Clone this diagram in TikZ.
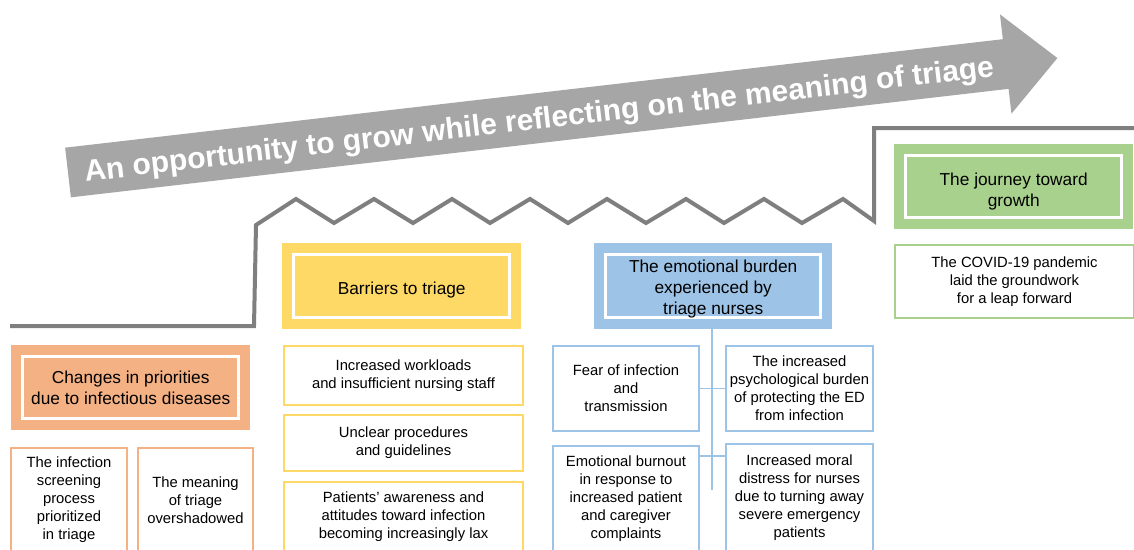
\documentclass[tikz,border=0pt]{standalone}
\usepackage{fontspec}
\setmainfont{Liberation Sans}
\usetikzlibrary{calc}

\definecolor{arrowgray}{HTML}{A6A6A6}
\definecolor{stairgray}{HTML}{7F7F7F}
\definecolor{peach}{HTML}{F4B183}
\definecolor{sun}{HTML}{FFD966}
\definecolor{sky}{HTML}{9DC3E6}
\definecolor{leaf}{HTML}{A9D18E}

\newcommand\hdrfont{\fontsize{17.3}{21}\selectfont}
\newcommand\bodyfont{\fontsize{14.8}{18}\selectfont}

\tikzset{
  header/.style={fill=#1, draw=none, inner sep=0pt, anchor=north west},
  htext/.style={inner sep=0pt, align=center, font=\hdrfont, text=black},
  item/.style={draw=#1, line width=2pt, fill=white, inner sep=0pt,
    align=center, font=\bodyfont, text=black, anchor=north west},
  frame/.style={draw=white, line width=3pt},
  stair/.style={draw=stairgray, line width=4pt, line join=miter},
  link/.style={draw=sky, line width=1.8pt},
}

% white inner frame of a header box
\newcommand\innerframe[1]{%
  \draw[frame] ([shift={(11.5pt,-11.5pt)}]#1.north west)
    rectangle ([shift={(-11.5pt,11.5pt)}]#1.south east);}

\begin{document}
\begin{tikzpicture}[x=1pt,y=-1pt]
\useasboundingbox (0,0) rectangle (1134,549);
\fill[white] (0,0) rectangle (1134,549);
\clip (0,0) rectangle (1134,549);

% big rising arrow
\begin{scope}[shift={(68,172.5)}, rotate=6.6]
  \fill[arrowgray] (0,-25) -- (944,-25) -- (944,-50) -- (996,0)
    -- (944,50) -- (944,25) -- (0,25) -- cycle;
  \node[transform shape, anchor=base, text=white,
    font=\bfseries\fontsize{30}{30}\selectfont] (motto) at (474,11)
    {An opportunity to grow while reflecting on the meaning of triage};
\end{scope}

% stepped path with the zigzag stretch
\draw[stair] (10,326) -- (254,326) -- (256,225)
  -- (296,199) -- (334,223) -- (374,199) -- (413,223)
  -- (452,199) -- (490,223) -- (530,199) -- (568,223)
  -- (607,199) -- (646,223) -- (686,199) -- (724,223)
  -- (764,199) -- (802,223) -- (843,199) -- (874,221)
  -- (874,128) -- (1140,128);

% theme headers
\node[header=peach, minimum width=239pt, minimum height=85pt] (h1) at (11,345) {};
\innerframe{h1}
\node[htext] (h1t) at (h1.center)
  {Changes in priorities\\due to infectious diseases};

\node[header=sun, minimum width=239pt, minimum height=86pt] (h2) at (282,243) {};
\innerframe{h2}
\node[htext] (h2t) at ([yshift=-3.5pt]h2.center) {Barriers to triage};

\node[header=sky, minimum width=238pt, minimum height=86pt] (h3) at (594,243) {};
\innerframe{h3}
\node[htext] (h3t) at ([yshift=-2.5pt]h3.center)
  {The emotional burden\\experienced by\\triage nurses};

\node[header=leaf, minimum width=239pt, minimum height=85pt] (h4) at (894,144) {};
\innerframe{h4}
\node[htext] (h4t) at ([yshift=-5pt]h4.center) {The journey toward\\growth};

% sub-themes
\node[item=peach, minimum width=116pt, minimum height=104pt] (o1) at (10,447)
  {The infection\\screening\\process\\prioritized\\in triage};
\node[item=peach, minimum width=115pt, minimum height=104pt] (o2) at (137,447)
  {The meaning\\of triage\\overshadowed};

\node[item=sun, minimum width=239pt, minimum height=59pt] (y1) at (283,345)
  {Increased workloads\\and insufficient nursing staff};
\node[item=sun, minimum width=239pt, minimum height=56pt] (y2) at (283,414)
  {Unclear procedures\\and guidelines};
\node[item=sun, minimum width=239pt, minimum height=70pt] (y3) at (283,481)
  {Patients' awareness and\\attitudes toward infection\\becoming increasingly lax};

% connectors of the emotional-burden group
\coordinate (stemend) at (712,490);
\draw[link] (h3.south -| stemend) -- (stemend);

\node[item=sky, minimum width=146pt, minimum height=85pt] (b1) at (552,345)
  {Fear of infection\\and\\transmission};
\node[item=sky, minimum width=147pt, minimum height=85pt] (b2) at (725,345)
  {The increased\\psychological burden\\of protecting the ED\\from infection};
\node[item=sky, minimum width=146pt, minimum height=106pt] (b3) at (552,445)
  {Emotional burnout\\in response to\\increased patient\\and caregiver\\complaints};
\node[item=sky, minimum width=147pt, minimum height=108pt] (b4) at (725,443)
  {Increased moral\\distress for nurses\\due to turning away\\severe emergency\\patients};

\draw[link] (b1.east) -- (b2.west);
\coordinate (j3) at ([yshift=-11pt]b3.north east);
\draw[link] (j3) -- (j3 -| b4.west);

\node[item=leaf, minimum width=239pt, minimum height=73pt] (g1) at (894,244)
  {The COVID-19 pandemic\\laid the groundwork\\for a leap forward};
\end{tikzpicture}
\end{document}
